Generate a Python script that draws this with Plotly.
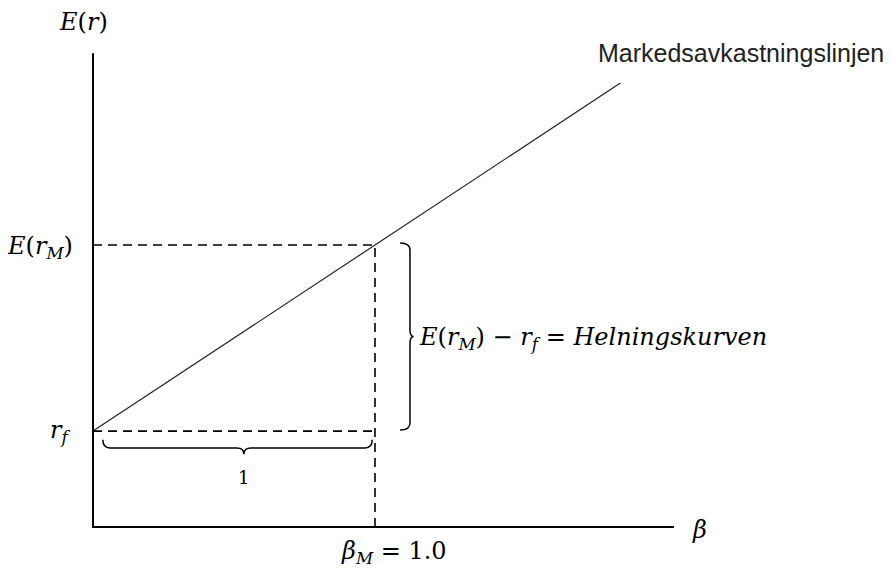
import plotly.graph_objects as go

# values (beta on x, expected return on y)
r_f = 0.34
E_rM = 1.0
beta_M = 1.0
beta_line = [0, 1.87]          # where the market line starts and ends
x_axis_end = 2.06
y_axis_end = 1.68

W, H = 891, 574
PX = 282                       # pixels per unit in both directions
X0, Y0 = 85, 519               # origin in figure pixels (page adds 8px body margin)

MATH = 'DejaVu Serif'
TEXT = 'Liberation Sans'


def line_y(b):
    return r_f + (E_rM - r_f) * b


def vbrace(x_end, x_spine, x_tip, top, bot, d=0.025):
    """right facing curly brace, as svg path in data coords"""
    mid = (top + bot) / 2
    return (f'M {x_end},{top} Q {x_spine},{top} {x_spine},{top - d} '
            f'L {x_spine},{mid + d} Q {x_spine},{mid} {x_tip},{mid} '
            f'Q {x_spine},{mid} {x_spine},{mid - d} '
            f'L {x_spine},{bot + d} Q {x_spine},{bot} {x_end},{bot}')


def hbrace(left, right, centre, y_end, y_spine, y_tip, d=0.025):
    """downward facing curly brace"""
    return (f'M {left},{y_end} Q {left},{y_spine} {left + d},{y_spine} '
            f'L {centre - d},{y_spine} Q {centre},{y_spine} {centre},{y_tip} '
            f'Q {centre},{y_spine} {centre + d},{y_spine} '
            f'L {right - d},{y_spine} Q {right},{y_spine} {right},{y_end}')


fig = go.Figure()

# axes
fig.add_trace(go.Scatter(x=[0, 0, x_axis_end], y=[y_axis_end, 0, 0], mode='lines',
                         line=dict(color='black', width=2), hoverinfo='skip'))
# market line
fig.add_trace(go.Scatter(x=beta_line, y=[line_y(b) for b in beta_line], mode='lines',
                         line=dict(color='#222', width=1.2), hoverinfo='skip'))
# dashed guides
dash = dict(color='black', width=1.6, dash='9px,6px')
fig.add_trace(go.Scatter(x=[0, beta_M], y=[E_rM, E_rM], mode='lines', line=dash, hoverinfo='skip'))
fig.add_trace(go.Scatter(x=[0, beta_M], y=[r_f, r_f], mode='lines', line=dash, hoverinfo='skip'))
fig.add_trace(go.Scatter(x=[beta_M, beta_M], y=[0, E_rM], mode='lines', line=dash, hoverinfo='skip'))

# braces
fig.add_shape(type='path', path=vbrace(1.089, 1.124, 1.137, E_rM + 0.007, r_f + 0.004),
              line=dict(color='black', width=1.5))
fig.add_shape(type='path', path=hbrace(0.035, 0.99, 0.535, 0.309, 0.28, 0.258),
              line=dict(color='black', width=1.5))

ann = [
    dict(x=-0.035, y=1.79, text='<i>E</i>(<i>r</i>)', font=dict(family=MATH, size=24)),
    dict(x=-0.064, y=E_rM - 0.01, xanchor='right',
         text='<i>E</i>(<i>r</i><sub><i>M</i></sub>)', font=dict(family=MATH, size=24)),
    dict(x=-0.117, y=r_f, text='<i>r</i><sub><i>f</i></sub>', font=dict(family=MATH, size=24)),
    dict(x=1.15, y=(r_f + E_rM) / 2, xanchor='left',
         text='<i>E</i>(<i>r</i><sub><i>M</i></sub>) − <i>r</i><sub><i>f</i></sub> = <i>Helningskurven</i>',
         font=dict(family=MATH, size=24)),
    dict(x=1.785, y=1.68, xanchor='left', text='Markedsavkastningslinjen',
         font=dict(family=TEXT, size=25, color='#222')),
    dict(x=2.15, y=-0.01, text='<i>β</i>', font=dict(family=MATH, size=24)),
    dict(x=1.067, y=-0.089, text='<i>β</i><sub><i>M</i></sub> = 1.0', font=dict(family=MATH, size=24)),
    dict(x=0.535, y=0.174, text='1', font=dict(family=MATH, size=18)),
]
for a in ann:
    a.setdefault('xanchor', 'center')
    a.update(xref='x', yref='y', yanchor='middle', showarrow=False)
    a['font'].setdefault('color', 'black')
    fig.add_annotation(**a)

fig.update_layout(
    width=W, height=H,
    margin=dict(l=0, r=0, t=0, b=0),
    paper_bgcolor='white', plot_bgcolor='white',
    showlegend=False,
    xaxis=dict(range=[-X0 / PX, (W - X0) / PX], visible=False, fixedrange=True),
    yaxis=dict(range=[(Y0 - H) / PX, Y0 / PX], visible=False, fixedrange=True),
)

fig.write_html('out.html')
